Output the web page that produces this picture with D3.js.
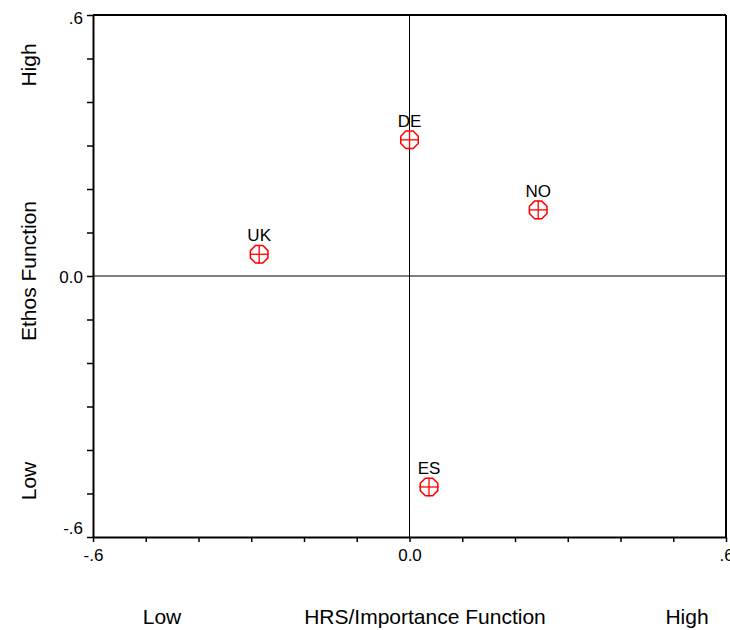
<!DOCTYPE html>
<html>
<head>
<meta charset="utf-8">
<script src="https://cdn.jsdelivr.net/npm/d3@7"></script>
<style>
  html, body { margin: 0; padding: 0; background: #fff; }
  svg { display: block; font-family: Arial, "Liberation Sans", sans-serif; }
</style>
</head>
<body>
<svg id="chart" width="730" height="630"></svg>
<script>
// Country positions on the two functions
const countries = ["UK", "DE", "NO", "ES"];
const hrsValues = [-0.285, 0.0, 0.244, 0.037];
const ethosValues = [0.05, 0.313, 0.152, -0.485];

// Axis ticks
const tickValues = [-0.6, -0.5, -0.4, -0.3, -0.2, -0.1, 0, 0.1, 0.2, 0.3, 0.4, 0.5, 0.6];
const labelledTicks = [-0.6, 0, 0.6];
const tickText = { "-0.6": "-.6", "0": "0.0", "0.6": ".6" };

(function () {
const svg = d3.select("#chart");
const plotL = 93, plotR = 726, plotT = 15, plotB = 537;
const font = "Arial, 'Liberation Sans', sans-serif";

const x = d3.scaleLinear().domain([-0.6, 0.6]).range([plotL, plotR]);
const y = d3.scaleLinear().domain([-0.6, 0.6]).range([plotB, plotT]);

const key = d => String(+d.toFixed(1));
const fmt = d => labelledTicks.some(v => String(v) === key(d)) ? tickText[key(d)] : "";

// Bottom axis
const xAxis = d3.axisBottom(x).tickValues(tickValues).tickSize(5).tickSizeOuter(0).tickFormat(fmt);
const gx = svg.append("g").attr("transform", `translate(0,${plotB})`).call(xAxis)
  .attr("font-size", 17).attr("font-family", font);
gx.select(".domain").attr("stroke-width", 2);
gx.selectAll(".tick line").attr("stroke-width", 1.5);
gx.selectAll(".tick text").attr("fill", "#000").attr("y", 12);

// Left axis; the end labels sit just inside the frame
const yAxis = d3.axisLeft(y).tickValues(tickValues).tickSize(6).tickSizeOuter(0).tickFormat(fmt);
const gy = svg.append("g").attr("transform", `translate(${plotL},0)`).call(yAxis)
  .attr("font-size", 17).attr("font-family", font);
gy.select(".domain").attr("stroke-width", 2);
gy.selectAll(".tick line").attr("stroke-width", 1.5);
gy.selectAll(".tick text").attr("fill", "#000").attr("x", -10)
  .attr("y", d => key(d) === "0.6" ? 3 : key(d) === "-0.6" ? -9 : 1);

// Top and right frame edges
svg.append("line").attr("x1", plotL).attr("x2", plotR).attr("y1", plotT).attr("y2", plotT)
  .attr("stroke", "#000").attr("stroke-width", 2);
svg.append("line").attr("x1", plotR).attr("x2", plotR).attr("y1", plotT).attr("y2", plotB)
  .attr("stroke", "#000").attr("stroke-width", 2);

// Zero reference lines
svg.append("line").attr("x1", x(0)).attr("x2", x(0)).attr("y1", plotT).attr("y2", plotB)
  .attr("stroke", "#000").attr("stroke-width", 1);
svg.append("line").attr("x1", plotL).attr("x2", plotR).attr("y1", y(0)).attr("y2", y(0))
  .attr("stroke", "#000").attr("stroke-width", 1);

// Markers: red octagon with a cross
const r = 9.5;
const octagon = d3.range(8).map(i => {
  const a = Math.PI / 8 + i * Math.PI / 4;
  return [r * Math.cos(a), r * Math.sin(a)];
});
const pts = countries.map((c, i) => ({ c, hx: hrsValues[i], ey: ethosValues[i] }));
const g = svg.append("g").selectAll("g").data(pts).join("g")
  .attr("transform", d => `translate(${x(d.hx)},${y(d.ey)})`);
g.append("polygon").attr("points", octagon.map(p => p.join(",")).join(" "))
  .attr("fill", "none").attr("stroke", "#f00").attr("stroke-width", 1.5);
g.append("line").attr("x1", -r).attr("x2", r).attr("stroke", "#f00").attr("stroke-width", 1.3);
g.append("line").attr("y1", -r).attr("y2", r).attr("stroke", "#f00").attr("stroke-width", 1.3);
g.append("text").attr("y", -13).attr("text-anchor", "middle").attr("font-size", 17)
  .attr("font-family", font).attr("fill", "#000").text(d => d.c);

// Axis titles
const yTitle = (txt, cy) => svg.append("text")
  .attr("transform", `translate(36,${cy}) rotate(-90)`)
  .attr("text-anchor", "middle").attr("font-size", 21).attr("font-family", font)
  .attr("fill", "#000").text(txt);
yTitle("High", 65);
yTitle("Ethos Function", 271);
yTitle("Low", 481);

const xTitle = (txt, cx) => svg.append("text")
  .attr("x", cx).attr("y", 624).attr("text-anchor", "middle")
  .attr("font-size", 21).attr("font-family", font).attr("fill", "#000").text(txt);
xTitle("Low", 162);
xTitle("HRS/Importance Function", 425);
xTitle("High", 687);
})();
</script>
</body>
</html>
